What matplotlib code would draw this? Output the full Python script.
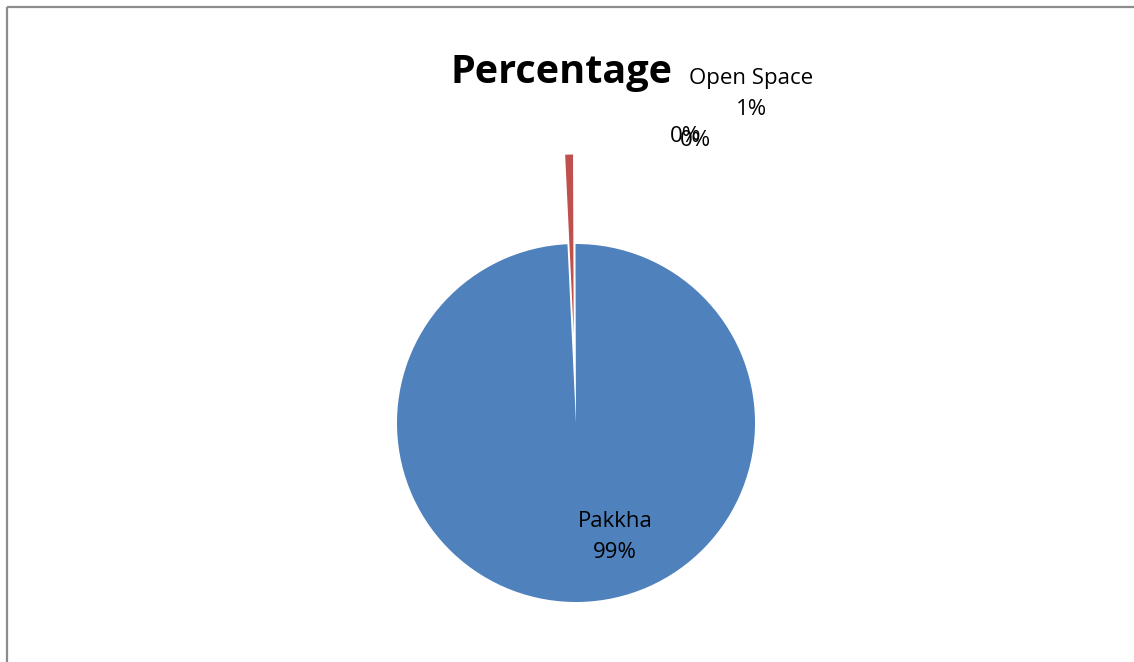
import numpy as np
import matplotlib.pyplot as plt

# land use shares (percent)
categories = ['Pakkha', 'Open Space', '', '']
values = [99.24, 0.70, 0.03, 0.03]
shown = ['99%', '1%', '0%', '0%']
explode_frac = [0.0, 0.5, 0.0, 0.0]
colors = ['#4F81BD', '#C0504D', '#9BBB59', '#8064A2']

W, H = 1134, 662
fig = plt.figure(figsize=(W / 100, H / 100), dpi=100)
ax = fig.add_axes([0, 0, 1, 1])

cx, cy, r = 576, H - 423, 179
# pie() offsets exploded wedges in data units, so scale by the radius
wedges, _ = ax.pie(values, colors=colors, startangle=90, counterclock=False,
                   center=(cx, cy), radius=r,
                   explode=[e * r for e in explode_frac],
                   wedgeprops=dict(linewidth=0), frame=True)
ax.set_xlim(0, W)
ax.set_ylim(0, H)
ax.axis('off')

font = 'Open Sans'
ax.text(561, H - 72, 'Percentage', ha='center', va='center',
        fontsize=28.5, fontweight='bold', family=font)

# data labels
lab_pos = [(615, H - 537), (751, H - 94), (685, H - 136), (695, H - 140)]
for name, pct, (x, y) in zip(categories, shown, lab_pos):
    txt = f'{name}\n{pct}' if name else pct
    ax.text(x, y, txt, ha='center', va='center', fontsize=16,
            family=font, linespacing=1.62)

# chart area border
ax.plot([7, 7], [0, H - 7], color='#8c8c8c', lw=1.6, solid_capstyle='butt')
ax.plot([7, W], [H - 7, H - 7], color='#8c8c8c', lw=1.6, solid_capstyle='butt')

fig.savefig('out.png', dpi=100)
